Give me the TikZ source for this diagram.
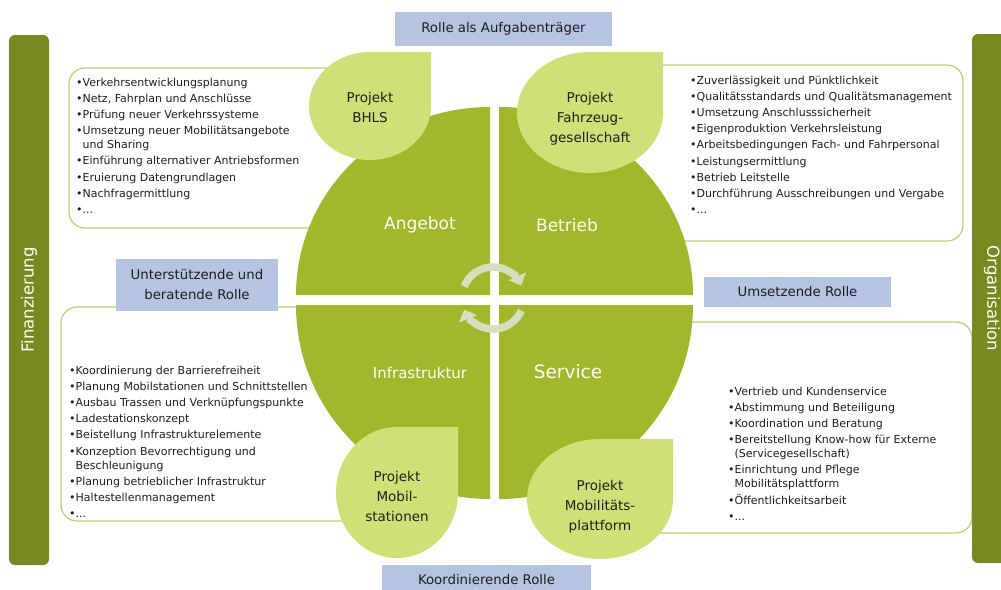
\documentclass[tikz,border=0pt]{standalone}
\usepackage{fontspec}
\setmainfont{DejaVu Sans}
\usetikzlibrary{arrows.meta}

\definecolor{quadgreen}{HTML}{A2B82A}
\definecolor{leafgreen}{HTML}{D0E076}
\definecolor{bargreen}{HTML}{778A1F}
\definecolor{framegreen}{HTML}{BCD06A}
\definecolor{rolleblue}{HTML}{B4C4E2}
\definecolor{arrowgreen}{HTML}{D4DFBF}
\definecolor{textdark}{HTML}{1E1E1E}

% teardrop leaf: centre x, centre y (pixels down), x radius, y radius
\newcommand{\leaf}[4]{%
  \fill[leafgreen] (#1+#3,-#2) arc[start angle=0, end angle=-270, x radius=#3, y radius=#4]
    -- (#1+#3,-#2+#4) -- cycle;}

\begin{document}
\begin{tikzpicture}[
            x=1pt, y=1pt,
            textbox/.style={draw=framegreen, line width=1.2pt, fill=white, rounded corners=16pt},
            bar/.style={rectangle, rounded corners=6pt, fill=bargreen, text=white,
                        inner sep=0pt, font=\fontsize{16.5}{20}\selectfont},
            role/.style={rectangle, fill=rolleblue, text=textdark, inner sep=0pt,
                         align=center, font=\fontsize{13.3}{20}\selectfont},
            liste/.style={anchor=north west, align=left, inner sep=0pt, text=textdark,
                          font=\fontsize{11}{16.2}\selectfont},
            qlabel/.style={text=white, inner sep=0pt},
            leaftext/.style={text=textdark, align=center, inner sep=0pt,
                             font=\fontsize{13.5}{20}\selectfont},
            cyclearrow/.style={draw=arrowgreen, line width=7.5pt, -{Triangle[width=19pt,length=10pt]}}
        ]

        \clip (0,0) rectangle (1001,-589);

        % Frames behind the circle
        \draw[textbox] (69,-68) rectangle (400,-228);
        \draw[textbox] (600,-65) rectangle (963,-241);
        \draw[textbox] (61,-307) rectangle (400,-521);
        \draw[textbox] (600,-322) rectangle (972,-533);

        % Side bars
        \node[bar, rotate=90, minimum width=530, minimum height=40] (finanz) at (29,-300) {Finanzierung};
        \node[bar, rotate=-90, minimum width=529, minimum height=40] (orga) at (992,-298.5) {Organisation};

        % Quarters of the circle
        \fill[quadgreen] (490,-295) -- ++(-194,0) arc[start angle=180, end angle=90, x radius=194, y radius=188] -- cycle;
        \fill[quadgreen] (499,-295) -- ++(194,0) arc[start angle=0, end angle=90, x radius=194, y radius=188] -- cycle;
        \fill[quadgreen] (490,-305) -- ++(-194,0) arc[start angle=180, end angle=270, radius=194] -- cycle;
        \fill[quadgreen] (499,-305) -- ++(194,0) arc[start angle=0, end angle=-90, radius=194] -- cycle;

        % Project leaves
        \leaf{370}{106}{61}{54}
        \leaf{590}{112.5}{73}{60.5}
        \leaf{397}{492.5}{61}{65.5}
        \leaf{600}{499}{73}{60}

        \node[leaftext] (bhls) at (370,-107) {Projekt\\BHLS};
        \node[leaftext] (fahrzeug) at (590,-119) {Projekt\\Fahrzeug-\\gesellschaft};
        \node[leaftext] (mobilst) at (397,-496) {Projekt\\Mobil-\\stationen};
        \node[leaftext] (plattform) at (600,-507) {Projekt\\Mobilitäts-\\plattform};

        % Quarter labels
        \node[qlabel, font=\fontsize{17}{20}\selectfont] (angebot) at (420,-225) {Angebot};
        \node[qlabel, font=\fontsize{17}{20}\selectfont] (betrieb) at (567,-225) {Betrieb};
        \node[qlabel, font=\fontsize{15}{18}\selectfont] (infra) at (420,-373) {Infrastruktur};
        \node[qlabel, font=\fontsize{18.5}{22}\selectfont] (service) at (568,-372) {Service};

        % Roles
        \node[role, minimum width=217, minimum height=34] (aufgabe) at (503.5,-29) {Rolle als Aufgabenträger};
        \node[role, minimum width=162, minimum height=52] (beratend) at (197,-285) {Unterstützende und\\beratende Rolle};
        \node[role, minimum width=187, minimum height=30] (umsetzend) at (797.5,-292) {Umsetzende Rolle};
        \node[role, minimum width=209, minimum height=30] (koord) at (486.5,-580) {Koordinierende Rolle};

        % Task lists
        \node[liste] (angebotliste) at (76,-77.5) {%
            •Verkehrsentwicklungsplanung\\
            •Netz, Fahrplan und Anschlüsse\\
            •Prüfung neuer Verkehrssysteme\\
            •Umsetzung neuer Mobilitätsangebote\\[-2.2pt]
            \hphantom{•}und Sharing\\
            •Einführung alternativer Antriebsformen\\
            •Eruierung Datengrundlagen\\
            •Nachfragermittlung\\
            •...};
        \node[liste] (betriebliste) at (690,-75.5) {%
            •Zuverlässigkeit und Pünktlichkeit\\
            •Qualitätsstandards und Qualitätsmanagement\\
            •Umsetzung Anschlusssicherheit\\
            •Eigenproduktion Verkehrsleistung\\
            •Arbeitsbedingungen Fach- und Fahrpersonal\\
            •Leistungsermittlung\\
            •Betrieb Leitstelle\\
            •Durchführung Ausschreibungen und Vergabe\\
            •...};
        \node[liste] (infraliste) at (69,-365.5) {%
            •Koordinierung der Barrierefreiheit\\
            •Planung Mobilstationen und Schnittstellen\\
            •Ausbau Trassen und Verknüpfungspunkte\\
            •Ladestationskonzept\\
            •Beistellung Infrastrukturelemente\\
            •Konzeption Bevorrechtigung und\\[-2.2pt]
            \hphantom{•}Beschleunigung\\
            •Planung betrieblicher Infrastruktur\\
            •Haltestellenmanagement\\
            •...};
        \node[liste] (serviceliste) at (728,-386.5) {%
            •Vertrieb und Kundenservice\\
            •Abstimmung und Beteiligung\\
            •Koordination und Beratung\\
            •Bereitstellung Know-how für Externe\\[-2.2pt]
            \hphantom{•}(Servicegesellschaft)\\
            •Einrichtung und Pflege\\[-2.2pt]
            \hphantom{•}Mobilitätsplattform\\
            •Öffentlichkeitsarbeit\\
            •...};

        % Cycle arrows in the middle
        \coordinate (hub) at (493,-298);
        \draw[cyclearrow] ([shift={(158:31)}]hub) arc[start angle=158, end angle=24, radius=31];
        \draw[cyclearrow] ([shift={(-24:31)}]hub) arc[start angle=-24, end angle=-158, radius=31];

\end{tikzpicture}
\end{document}
